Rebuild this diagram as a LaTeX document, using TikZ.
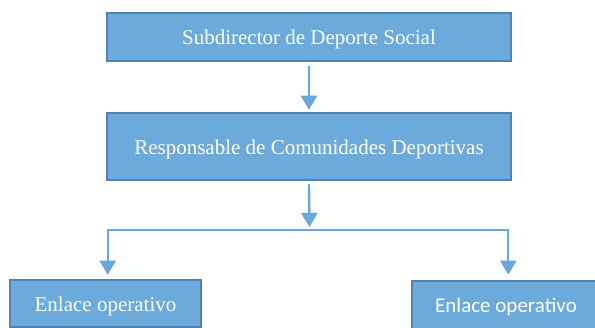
\documentclass[tikz,border=0pt]{standalone}
\usepackage{fontspec}
\setmainfont{Liberation Serif}
\newfontfamily\calib{Carlito}
\usetikzlibrary{arrows.meta}
\definecolor{boxfill}{RGB}{108,170,220}
\definecolor{boxline}{RGB}{82,130,180}
\definecolor{arrcol}{RGB}{105,168,222}
\tikzset{
  orgbox/.style={draw=boxline, fill=boxfill, line width=2.5pt, text=white,
    inner sep=0pt, text height=16pt, text depth=0pt,
    font=\fontsize{21}{25}\selectfont},
  conn/.style={draw=arrcol, line width=2.4pt},
  arr/.style={conn, -{Triangle[length=14pt,width=16pt]}}
}
\begin{document}
\begin{tikzpicture}[x=1pt,y=-1pt]
\useasboundingbox (0,0) rectangle (595,328);
\node[orgbox, minimum width=404pt, minimum height=48pt] (top) at (309,37) {Subdirector de Deporte Social};
\node[orgbox, minimum width=404pt, minimum height=67pt] (mid) at (309,146.5) {Responsable de Comunidades Deportivas};
\node[orgbox, minimum width=191pt, minimum height=47pt] (left) at (105.5,303.5) {Enlace operativo};
\node[orgbox, minimum width=188pt, minimum height=48pt, font=\calib\fontsize{21}{25}\selectfont] (right) at (506,305) {Enlace operativo};
\coordinate (jc) at (309.5,227);
\coordinate (jm) at (309.5,230);
\coordinate (jl) at (107.7,230);
\coordinate (jr) at (508.3,230);
\draw[arr] ([yshift=-4pt]top.south) -- ([yshift=2pt]mid.north);
\draw[arr] ([yshift=-2.5pt]mid.south) -- (jc);
\draw[arr, line width=2.2pt, line join=miter] (jm) -- (jl) -- ([yshift=4pt]jl |- left.north);
\draw[arr, line width=2.2pt, line join=miter] (jm) -- (jr) -- ([yshift=5pt]jr |- right.north);
\end{tikzpicture}
\end{document}
